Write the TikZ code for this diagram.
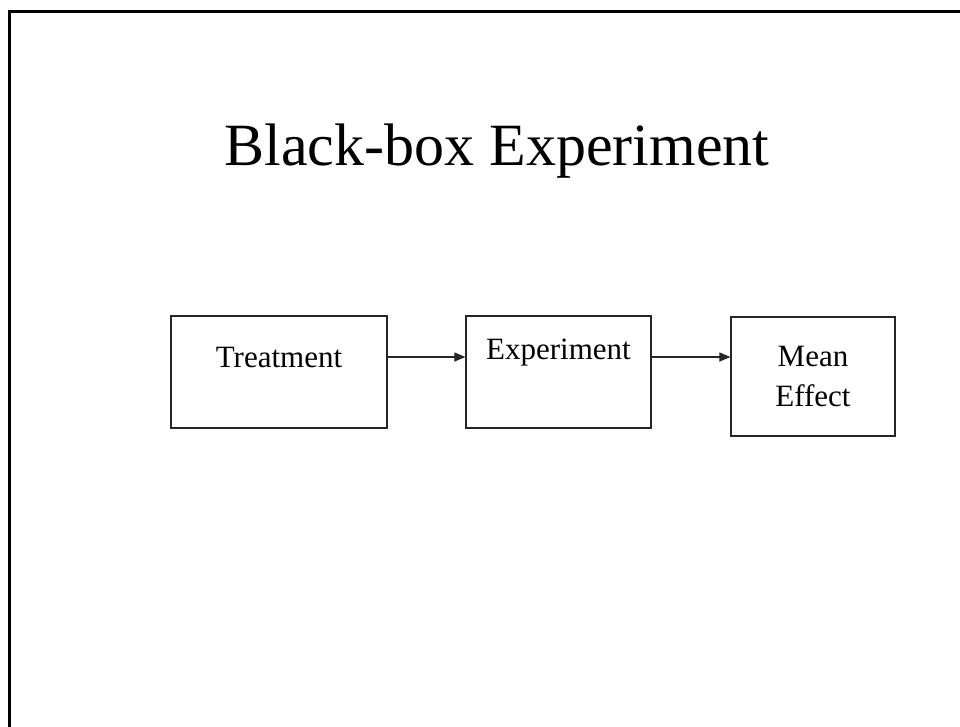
\documentclass[tikz,border=0pt]{standalone}
\usepackage{fontspec}
\setmainfont{Liberation Serif}
\usetikzlibrary{arrows.meta,positioning}

\begin{document}
\begin{tikzpicture}[x=1pt, y=-1pt,
    block/.style={draw=black!85, line width=1.2pt, inner sep=0pt},
    boxtext/.style={font=\fontsize{31}{40}\selectfont, anchor=base, inner sep=0pt},
    flow/.style={-{Triangle[length=11pt, width=9pt]}, line width=1.1pt, draw=black!85}]
    \useasboundingbox (0,0) rectangle (960,726);

    % Slide frame
    \draw[line width=2.6pt] (9.5,740) -- (9.5,11.5) -- (975,11.5);

    % Title
    \node[font=\fontsize{60}{72}\selectfont, anchor=base, inner sep=0pt] (title) at (497,165) {Black-box Experiment};

    % Boxes - left to right
    \node[block, minimum width=216pt, minimum height=112pt] (treatment) at (279,372) {};
    \node[block, minimum width=185pt, minimum height=112pt] (experiment) at (558.5,372) {};
    \node[block, minimum width=164pt, minimum height=119pt] (effect) at (813,376.5) {};

    % Box texts
    \node[boxtext] (treatmenttxt) at ([yshift=-52pt]treatment.north) {Treatment};
    \node[boxtext] (experimenttxt) at ([yshift=-44pt]experiment.north) {Experiment};
    \node[boxtext, align=center] (effecttxt) at ([yshift=-90pt]effect.north) {Mean\\Effect};

    % Arrows
    \draw[flow] ([yshift=15pt]treatment.east) -- ([yshift=15pt]treatment.east -| experiment.west);
    \draw[flow] ([yshift=15pt]experiment.east) -- ([yshift=15pt]experiment.east -| effect.west);
\end{tikzpicture}
\end{document}
